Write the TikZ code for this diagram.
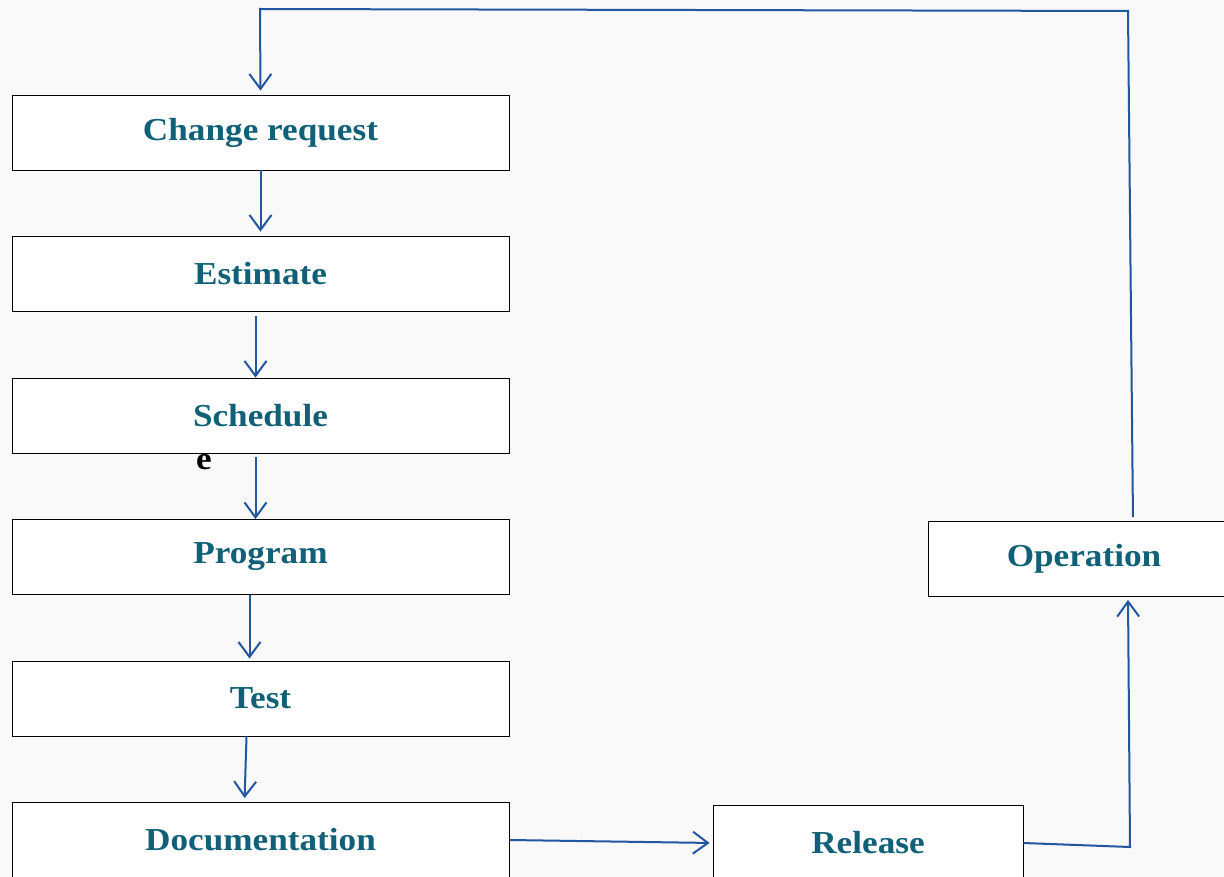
\documentclass[tikz,border=0pt]{standalone}
\usepackage{fontspec}
\setmainfont{Liberation Serif}[FakeStretch=1.1]
\usetikzlibrary{arrows.meta,calc}
\definecolor{steptext}{HTML}{106177}
\definecolor{flowblue}{HTML}{2157A0}
\definecolor{paper}{HTML}{F9F9F9}
\tikzset{
  stage/.style={draw=black,fill=white,line width=0.8pt,minimum height=75pt,
    text=steptext,font=\fontsize{32}{32}\selectfont\bfseries,inner sep=0pt},
  flow/.style={draw=flowblue,line width=2pt,
    -{Straight Barb[length=15pt,width=22pt,line width=2pt]}},
}
\begin{document}
\begin{tikzpicture}[x=1pt,y=-1pt]
    \clip (0,0) rectangle (1224,877);
    \fill[paper] (0,0) rectangle (1224,877);
    % stray letter under Schedule
    \node[font=\fontsize{32}{32}\selectfont\bfseries] (stray) at (204,462) {e};
    % left column
    \node[stage,minimum width=497pt] (cr)  at (260.5,132.5) {Change request};
    \node[stage,minimum width=497pt] (est) at (260.5,273.5) {Estimate};
    \node[stage,minimum width=497pt] (sch) at (260.5,415.5) {Schedule};
    \node[stage,minimum width=497pt] (prg) at (260.5,557) {Program};
    \node[stage,minimum width=497pt] (tst) at (260.5,698.5) {Test};
    \node[stage,minimum width=497pt] (doc) at (260.5,840) {Documentation};
    % right side
    \node[stage,minimum width=310pt] (rel) at (868,843) {Release};
    \node[stage,minimum width=312pt] (op)  at (1084,559) {Operation};
    \coordinate (top) at (260,9);
    \coordinate (corner) at (1128,11);
    \coordinate (bend) at (1130,847);
    % arrows
    \draw[flow,shorten >=4pt] (cr.south) -- (est.north);
    \draw[flow,shorten <=5pt] ($(est.south)+(-5,0)$) -- ($(sch.north)+(-5,0)$);
    \draw[flow,shorten <=4pt] ($(sch.south)+(-5,0)$) -- ($(prg.north)+(-5,0)$);
    \draw[flow,shorten >=2pt] ($(prg.south)+(-11,0)$) -- ($(tst.north)+(-11,0)$);
    \draw[flow,shorten >=4pt] ($(tst.south)+(-14,0)$) -- ($(doc.north)+(-16,0)$);
    \draw[flow,shorten >=3pt] (doc.east) -- (rel.west);
    \draw[flow,shorten >=3pt] (rel.east) -- (bend) -- ($(op.south)+(44,0)$);
    \draw[flow,shorten <=4pt,shorten >=4pt] ($(op.north)+(49,0)$) -- (corner) -- (top) -- (cr.north);
\end{tikzpicture}
\end{document}
